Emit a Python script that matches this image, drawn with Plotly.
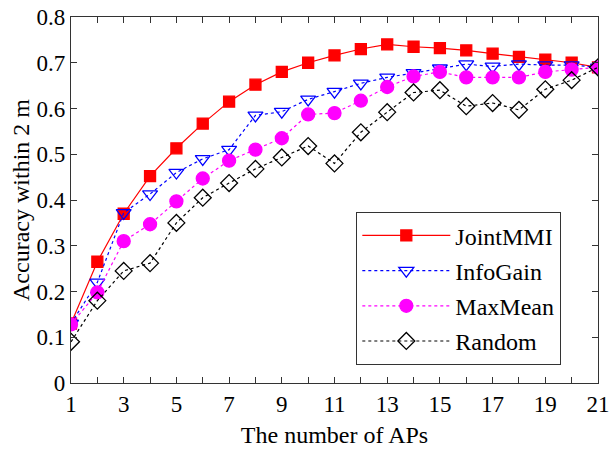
import plotly.graph_objects as go

aps = list(range(1, 22))
joint_mmi = [0.13, 0.265, 0.37, 0.452, 0.513, 0.567, 0.615, 0.652, 0.68, 0.70, 0.716,
             0.73, 0.74, 0.735, 0.732, 0.727, 0.72, 0.713, 0.707, 0.70, 0.69]
info_gain = [0.13, 0.22, 0.372, 0.413, 0.46, 0.49, 0.51, 0.585, 0.593, 0.62, 0.637,
             0.655, 0.668, 0.678, 0.688, 0.697, 0.692, 0.697, 0.695, 0.695, 0.69]
max_mean = [0.128, 0.198, 0.31, 0.347, 0.397, 0.447, 0.486, 0.51, 0.535, 0.587, 0.59,
            0.617, 0.647, 0.67, 0.68, 0.668, 0.668, 0.668, 0.68, 0.685, 0.69]
random_sel = [0.09, 0.18, 0.245, 0.262, 0.35, 0.405, 0.437, 0.468, 0.493, 0.518, 0.48,
              0.548, 0.592, 0.635, 0.64, 0.605, 0.612, 0.597, 0.642, 0.662, 0.69]

FONT = "Liberation Serif"

fig = go.Figure()
series = [
    ("JointMMI", joint_mmi, "#ff0000", "solid", "square", "#ff0000", 11),
    ("InfoGain", info_gain, "#0000ff", "dot", "triangle-down-open", "#0000ff", 13),
    ("MaxMean", max_mean, "#ff00ff", "dot", "circle", "#ff00ff", 13),
    ("Random", random_sel, "#000000", "dot", "diamond-open", "#000000", 13),
]
for i, (name, ys, col, dash, sym, mcol, msize) in enumerate(series):
    fig.add_trace(go.Scatter(
        x=aps, y=ys, name=name, mode="lines+markers",
        line=dict(color=col, width=1.2, dash=dash),
        marker=dict(symbol=sym, color=mcol, size=msize,
                    line=dict(color=mcol, width=1.3)),
        legendgroup=f"g{i}",
    ))

axis_common = dict(
    showline=True, linecolor="#333333", linewidth=1.2, mirror="ticks",
    ticks="inside", ticklen=6, tickcolor="#333333", showgrid=False, zeroline=False,
    tickfont=dict(family=FONT, size=23, color="black"), automargin=False,
    ticklabeloverflow="allow",
)
fig.update_xaxes(range=[1, 21], tickmode="linear", tick0=1, dtick=2,
                 minor=dict(dtick=1, tick0=1, ticks="inside", ticklen=6, tickcolor="#333333"),
                 title=dict(text="The number of APs", font=dict(family=FONT, size=24, color="black"), standoff=10),
                 **axis_common)
fig.update_yaxes(range=[0, 0.8], tickmode="linear", tick0=0, dtick=0.1,
                 tickformat="~g",
                 title=dict(text="Accuracy within 2 m", font=dict(family=FONT, size=24, color="black"), standoff=0),
                 **axis_common)

fig.update_layout(
    width=609, height=450,
    margin=dict(l=71, r=11, t=17, b=67),
    plot_bgcolor="white", paper_bgcolor="white",
    legend=dict(x=0.541, y=0.467, xanchor="left", yanchor="top",
                bgcolor="white", bordercolor="#333333", borderwidth=1.2,
                font=dict(family=FONT, size=24, color="black"),
                tracegroupgap=1, itemwidth=88),
)

fig.write_html("out.html")
